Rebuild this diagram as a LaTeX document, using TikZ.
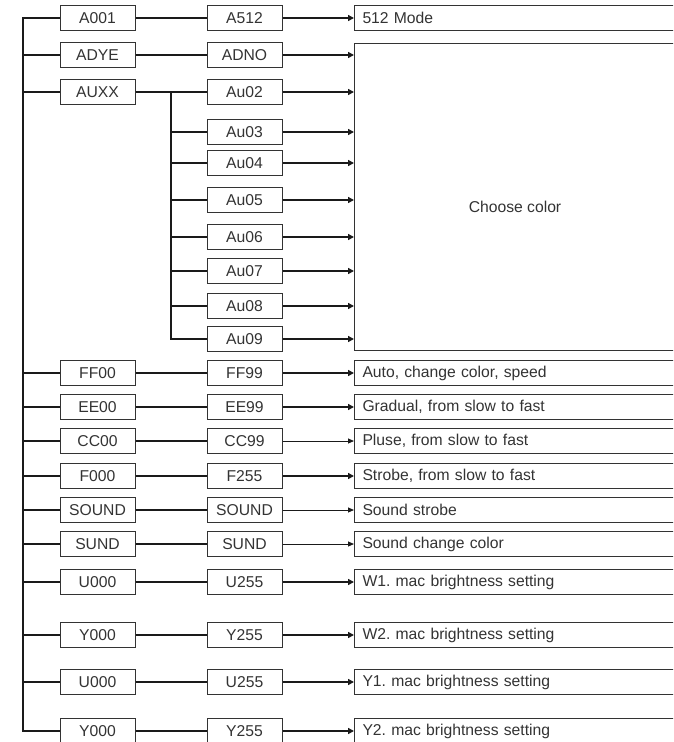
\documentclass[tikz,border=0pt]{standalone}
\usepackage{fontspec}
\setmainfont{Liberation Sans}
\usetikzlibrary{arrows.meta}
\definecolor{ink}{HTML}{333333}
\definecolor{wirec}{HTML}{1A1A1A}
\frenchspacing
\begin{document}
\begin{tikzpicture}[x=1pt,y=-1pt,
  lbl/.style={text=ink,font=\fontsize{15.7}{18}\selectfont},
  box/.style={lbl,draw=ink,line width=1pt,minimum width=75pt,minimum height=25pt,inner sep=0pt},
  res/.style={lbl,draw=ink,line width=1pt,minimum height=25pt,text width=312pt,inner xsep=8pt,inner ysep=0pt,align=left,anchor=west},
  wire/.style={draw=wirec,line width=1.3pt},
  bus/.style={draw=wirec,line width=2pt,line cap=rect},
  arr/.style={draw=wirec,line width=2pt,-{Triangle[length=6pt,width=6pt]}},
  arrthin/.style={draw=wirec,line width=1pt,-{Triangle[length=6pt,width=5pt]}}
]
\clip (0,0) rectangle (673,742);
\useasboundingbox (0,0) rectangle (673,742);

% main bus
\coordinate (bt) at (23,18);
\coordinate (bb) at (23,731);
\draw[bus] (bt) -- (bb);

% big "Choose color" box
\node[draw=ink,line width=1pt,minimum width=330pt,minimum height=307pt,anchor=north west,inner sep=0pt] (big) at (354,43) {};
\node[lbl] (choose) at (515,207) {Choose color};

% rows with their own result boxes
\foreach \i/\y/\a/\b/\r/\s in {
  1/18/A001/A512/{512 Mode}/arr,
  4/373/FF00/FF99/{Auto, change color, speed}/arr,
  5/407/EE00/EE99/{Gradual, from slow to fast}/arr,
  6/441/CC00/CC99/{Pluse, from slow to fast}/arrthin,
  7/476/F000/F255/{Strobe, from slow to fast}/arr,
  8/510/SOUND/SOUND/{Sound strobe}/arrthin,
  9/544/SUND/SUND/{Sound change color}/arrthin,
  10/582/U000/U255/{W1. mac brightness setting}/arr,
  11/635/Y000/Y255/{W2. mac brightness setting}/arr,
  12/682/U000/U255/{Y1. mac brightness setting}/arr,
  13/731/Y000/Y255/{Y2. mac brightness setting}/arr}{
  \node[box] (a\i) at (97.5,\y) {\a};
  \node[box] (b\i) at (244.5,\y) {\b};
  \node[res] (r\i) at (354,\y) {\r};
  \draw[wire] (a\i.west -| bt) -- (a\i.west);
  \draw[wire] (a\i) -- (b\i);
  \draw[\s] (b\i) -- (r\i);
}

% rows into the big box
\foreach \i/\y/\a/\b in {2/55/ADYE/ADNO, 3/92/AUXX/Au02}{
  \node[box] (a\i) at (97.5,\y) {\a};
  \node[box] (b\i) at (244.5,\y) {\b};
  \draw[wire] (a\i.west -| bt) -- (a\i.west);
  \draw[wire] (a\i) -- (b\i);
  \draw[arr] (b\i.east) -- (b\i.east -| big.west);
}

% AUXX sub-bus
\coordinate (st) at (171,92);
\coordinate (sb) at (171,339);
\draw[bus] (st) -- (sb);
\foreach \k/\y in {03/132, 04/163, 05/200, 06/237, 07/271, 08/306, 09/339}{
  \node[box] (u\k) at (244.5,\y) {Au\k};
  \draw[wire] (u\k.west -| st) -- (u\k.west);
  \draw[arr] (u\k.east) -- (u\k.east -| big.west);
}
\end{tikzpicture}
\end{document}
